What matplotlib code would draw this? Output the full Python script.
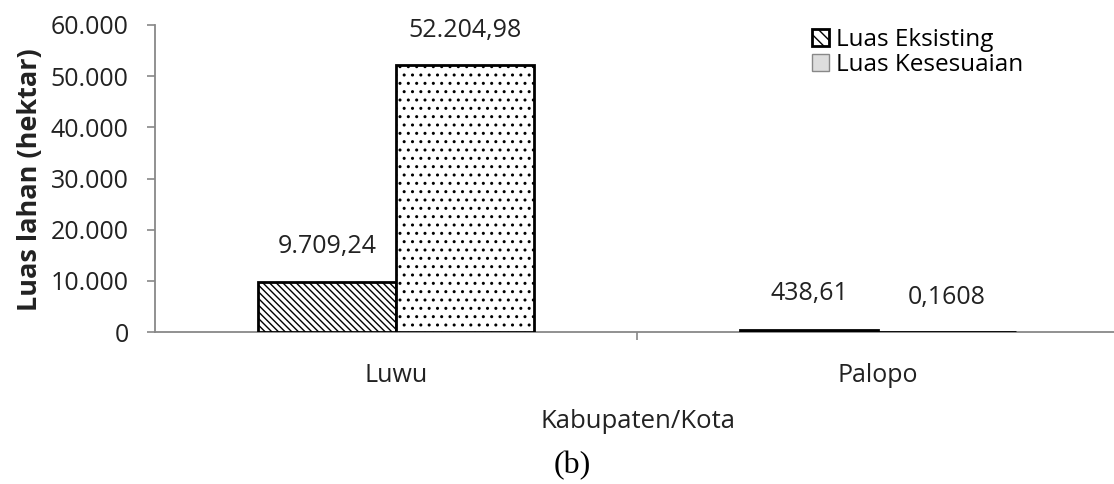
import matplotlib.pyplot as plt
from matplotlib.patches import Patch

plt.rcParams['font.family'] = ['Open Sans', 'DejaVu Sans']
plt.rcParams['hatch.linewidth'] = 1.0

kategori = ["Luwu", "Palopo"]
luas_eksisting = [9709.24, 438.61]
luas_kesesuaian = [52204.98, 0.1608]
label_eksisting = ["9.709,24", "438,61"]
label_kesesuaian = ["52.204,98", "0,1608"]
yticks = [0, 10000, 20000, 30000, 40000, 50000, 60000]
ytick_labels = ["0", "10.000", "20.000", "30.000", "40.000", "50.000", "60.000"]

fig = plt.figure(figsize=(11.14, 4.84), dpi=100)
ax = fig.add_axes([155 / 1114, 1 - 332 / 484, (1114 - 155) / 1114, 307 / 484])

x = range(len(kategori))
w = 0.286
b1 = ax.bar([i - w for i in x], luas_eksisting, width=w, align="edge",
            color="white", edgecolor="black", linewidth=2, hatch="\\\\\\\\\\")
b2 = ax.bar([i for i in x], luas_kesesuaian, width=w, align="edge",
            color="white", edgecolor="black", linewidth=2, hatch="..")

# label data
for i in x:
    ax.annotate(label_eksisting[i], (i - w / 2, luas_eksisting[i]), xytext=(0, 26),
                textcoords="offset points", ha="center", va="center", fontsize=18, color="#222222")
    ax.annotate(label_kesesuaian[i], (i + w / 2, luas_kesesuaian[i]), xytext=(0, 25),
                textcoords="offset points", ha="center", va="center", fontsize=18, color="#222222")

ax.set_xlim(-0.5, 1.49)
ax.set_ylim(0, 60000)
ax.set_yticks(yticks)
ax.set_yticklabels(ytick_labels, fontsize=18, color="#222222")
ax.set_xticks([0.5])
ax.set_xticklabels([""])
ax.tick_params(axis="both", direction="out", length=6, width=1.2, color="#888888")
ax.tick_params(axis="y", pad=13)

for i, k in enumerate(kategori):
    ax.text(i, -0.143, k, transform=ax.get_xaxis_transform(), ha="center", va="center",
            fontsize=18, color="#222222")

ax.spines["top"].set_visible(False)
ax.spines["right"].set_visible(False)
ax.spines["left"].set_color("#888888")
ax.spines["bottom"].set_color("#888888")
ax.spines["left"].set_linewidth(1.3)
ax.spines["bottom"].set_linewidth(1.3)
ax.spines["bottom"].set_zorder(0.5)

fig.text(30 / 1114, 1 - 180 / 484, "Luas lahan (hektar)", rotation=90, ha="center", va="center",
         fontsize=19.5, fontweight="bold", color="#222222")
fig.text(638 / 1114, 1 - 422 / 484, "Kabupaten/Kota", ha="center", va="center",
         fontsize=18.5, color="#222222")
fig.text(572 / 1114, 1 - 466 / 484, "(b)", ha="center", va="center",
         fontsize=23, family="Liberation Serif", color="black")

handles = [Patch(facecolor="white", edgecolor="black", hatch="\\\\\\", linewidth=2, label="Luas Eksisting"),
           Patch(facecolor="#dddddd", edgecolor="#888888", linewidth=1, label="Luas Kesesuaian")]
ax.legend(handles=handles, loc="upper left", bbox_to_anchor=(800 / 1114, 1 - 16 / 484),
          bbox_transform=fig.transFigure, frameon=False, fontsize=17.5, handlelength=0.7,
          handleheight=0.7, handletextpad=0.3, labelspacing=0.05, borderpad=0)

fig.savefig("out.png", dpi=100)
